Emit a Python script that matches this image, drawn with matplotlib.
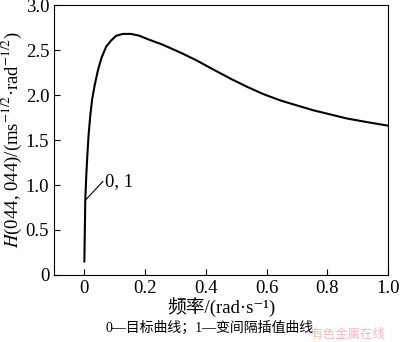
import matplotlib.pyplot as plt

plt.rcParams['font.family'] = ['Liberation Serif', 'Noto Sans CJK SC', 'DejaVu Sans']
plt.rcParams['mathtext.fontset'] = 'stix'

# curve (frequency, H)
freq = [0.0, 0.003, 0.0065, 0.0098, 0.014, 0.0197, 0.026, 0.034, 0.045, 0.056,
        0.072, 0.089, 0.105, 0.127, 0.154, 0.181, 0.21, 0.258, 0.318, 0.367,
        0.427, 0.48, 0.537, 0.59, 0.646, 0.7, 0.755, 0.81, 0.864, 0.93, 1.0]
h_val = [0.15, 0.83, 1.12, 1.33, 1.56, 1.78, 1.96, 2.11, 2.28, 2.41,
         2.54, 2.61, 2.66, 2.68, 2.68, 2.66, 2.62, 2.56, 2.47, 2.39,
         2.28, 2.185, 2.09, 2.01, 1.94, 1.885, 1.83, 1.785, 1.74, 1.70, 1.66]

xticks = [0, 0.2, 0.4, 0.6, 0.8, 1.0]
xtick_labels = ['0', '0.2', '0.4', '0.6', '0.8', '1.0']
yticks = [0, 0.5, 1.0, 1.5, 2.0, 2.5, 3.0]
ytick_labels = ['0', '0.5', '1.0', '1.5', '2.0', '2.5', '3.0']

fig = plt.figure(figsize=(4, 3.42), dpi=100)
ax = fig.add_axes([0.135, 0.196, 0.835, 0.789])

ax.plot(freq, h_val, color='black', linewidth=1.5)

ax.set_xlim(-0.1, 1.0)
ax.set_ylim(0, 3.0)
ax.set_xticks(xticks)
ax.set_xticklabels(xtick_labels)
ax.set_yticks(yticks)
ax.set_yticklabels(ytick_labels)
ax.tick_params(direction='in', labelsize=13.5, length=4, width=0.8)

# curve label with leader line
ax.plot([0.003, 0.061], [0.83, 1.04], color='black', linewidth=0.8)
ax.text(0.067, 1.04, '0, 1', fontsize=13.5, va='center', ha='left')

ax.set_xlabel('频率/(rad·s⁻¹)', fontsize=13.5, labelpad=0)
ax.set_ylabel('$H$(044, 044)/(ms$^{-1/2}$·rad$^{-1/2}$)', fontsize=13.5, labelpad=1)

fig.text(0.525, 0.04, '0—目标曲线；1—变间隔插值曲线', fontsize=10,
         ha='center', va='center', family=['Liberation Serif', 'Noto Sans CJK SC'])
fig.text(0.87, 0.022, '有色金属在线', fontsize=9, color='#f4b8c0',
         ha='center', va='center', family=['Noto Sans CJK SC'])

fig.savefig('out.png', dpi=100)
